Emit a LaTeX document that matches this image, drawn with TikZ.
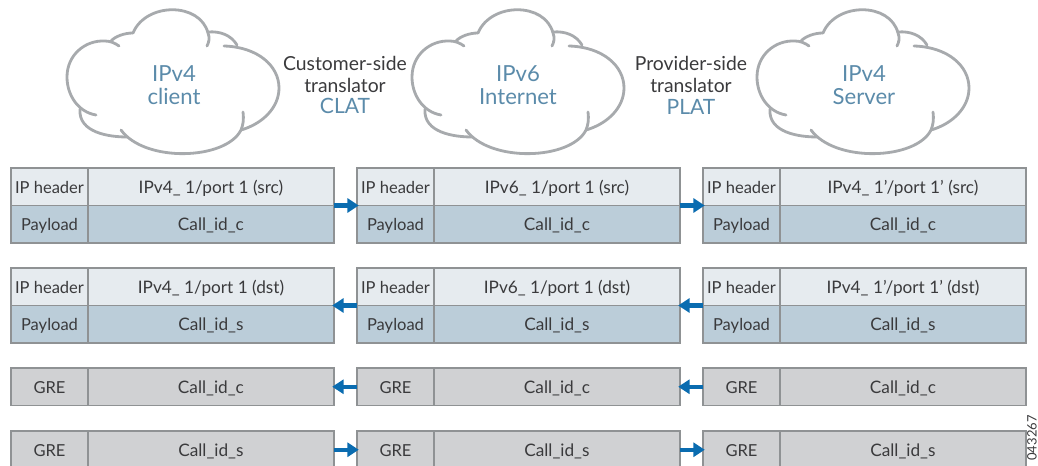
\documentclass[tikz,border=0pt]{standalone}
\usepackage{fontspec}
\setmainfont{Lato}
\setsansfont{Lato}
\usetikzlibrary{arrows.meta}
\definecolor{cloudgray}{HTML}{A7AAAD}
\definecolor{boxedge}{HTML}{8F9294}
\definecolor{headfill}{HTML}{E6EBEF}
\definecolor{loadfill}{HTML}{BBCDD9}
\definecolor{grefill}{HTML}{D0D1D3}
\definecolor{labelblue}{HTML}{5B8BAA}
\definecolor{arrowblue}{HTML}{0A6CB0}
\definecolor{textgray}{HTML}{3A3A3C}
\tikzset{
	cell/.style={draw=boxedge, line width=0.8pt, minimum height=0.75cm, inner sep=0pt, outer sep=0pt, text=textgray, text height=7.2pt, text depth=0pt, anchor=north west},
	tagcell/.style={cell, minimum width=1.54cm, font=\fontsize{9.4}{10}\selectfont},
	bodycell/.style={cell, minimum width=4.92cm, font=\fontsize{9.8}{10}\selectfont},
	headfilled/.style={fill=headfill},
	loadfilled/.style={fill=loadfill},
	grefilled/.style={fill=grefill},
	cloudline/.style={draw=cloudgray, line width=1.6pt, line cap=round},
	cloudtext/.style={text=labelblue, align=center, font=\fontsize{12.6}{13.2}\selectfont},
	sidetext/.style={text=textgray, align=center, font=\fontsize{11}{12.5}\selectfont},
	flow/.style={draw=arrowblue, line width=2.4pt, -{Triangle[length=6.5pt,width=8pt]}, shorten >=-1pt}
}
\begin{document}
\begin{tikzpicture}[x=0.02cm,y=-0.02cm]
	\useasboundingbox (0,0) rectangle (1038,466);

	% Wolken
	\foreach \dx in {0,345,690} {
		\begin{scope}[xshift=\dx*0.02cm]
			\draw[cloudline] (133,33) .. controls (146,2) and (200,2) .. (208,33) .. controls (210,38) and (209,42) .. (207,46);
			\draw[cloudline] (208,32) .. controls (220,31) and (231,35) .. (237,45);
			\draw[cloudline] (224,46) .. controls (258,47) and (279,66) .. (279,88) .. controls (279,108) and (262,124) .. (241,130);
			\draw[cloudline] (243,112) .. controls (244,120) and (243,125) .. (241,130) .. controls (226,160) and (145,163) .. (121,130);
			\draw[cloudline] (127,137) .. controls (110,137) and (78,133) .. (80,109);
			\draw[cloudline] (96,115) .. controls (78,112) and (67,95) .. (67,77) .. controls (67,55) and (85,40) .. (105,41) .. controls (110,41) and (115,43) .. (119,46);
			\draw[cloudline] (110,42) .. controls (115,36) and (125,33) .. (133,33);
		\end{scope}
	}

	% Labels
	\node[cloudtext] (clientlabel) at (174,85) {IPv4\\client};
	\node[cloudtext] (internetlabel) at (518,85) {IPv6\\Internet};
	\node[cloudtext] (serverlabel) at (864,85) {IPv4\\Server};
	\node[sidetext] (clat) at (345,85) {Customer-side\\translator\\\textcolor{labelblue}{\fontsize{12}{12.5}\selectfont CLAT}};
	\node[sidetext] (plat) at (691,85) {Provider-side\\translator\\\textcolor{labelblue}{\fontsize{12}{12.5}\selectfont PLAT}};

	% Pakketten per kolom
	\foreach \col/\x/\srctext/\dsttext in {
		a/11/{IPv4\_ 1/port 1 (src)}/{IPv4\_ 1/port 1 (dst)},
		b/357/{IPv6\_ 1/port 1 (src)}/{IPv6\_ 1/port 1 (dst)},
		c/703/{IPv4\_ 1'/port 1' (src)}/{IPv4\_ 1'/port 1' (dst)}} {
		\pgfmathsetmacro{\bx}{\x+77}
		\node[tagcell, headfilled] (tagone\col) at (\x,168) {IP header};
		\node[bodycell, headfilled] (headone\col) at (\bx,168) {\srctext};
		\node[tagcell, loadfilled] (tagtwo\col) at (\x,205.5) {Payload};
		\node[bodycell, loadfilled] (loadone\col) at (\bx,205.5) {Call\_id\_c};
		\node[tagcell, headfilled] (tagthree\col) at (\x,268) {IP header};
		\node[bodycell, headfilled] (headtwo\col) at (\bx,268) {\dsttext};
		\node[tagcell, loadfilled] (tagfour\col) at (\x,305.5) {Payload};
		\node[bodycell, loadfilled] (loadtwo\col) at (\bx,305.5) {Call\_id\_s};
		\node[tagcell, grefilled] (tagfive\col) at (\x,368) {GRE};
		\node[bodycell, grefilled] (greone\col) at (\bx,368) {Call\_id\_c};
		\node[tagcell, grefilled] (tagsix\col) at (\x,431) {GRE};
		\node[bodycell, grefilled] (gretwo\col) at (\bx,431) {Call\_id\_s};
	}

	% Pijlen
	\draw[flow] (loadonea.north east) -- (tagtwob.north west);
	\draw[flow] (loadoneb.north east) -- (tagtwoc.north west);
	\draw[flow] (tagfourb.north west) -- (loadtwoa.north east);
	\draw[flow] (tagfourc.north west) -- (loadtwob.north east);
	\draw[flow] (tagfiveb.west) -- (greonea.east);
	\draw[flow] (tagfivec.west) -- (greoneb.east);
	\draw[flow] (gretwoa.east) -- (tagsixb.west);
	\draw[flow] (gretwob.east) -- (tagsixc.west);

	% Figuurnummer
	\node[rotate=90, anchor=east, inner sep=0pt, text=textgray, font=\fontsize{7.4}{8}\selectfont] (figno) at (1032,415) {043267};
\end{tikzpicture}
\end{document}
